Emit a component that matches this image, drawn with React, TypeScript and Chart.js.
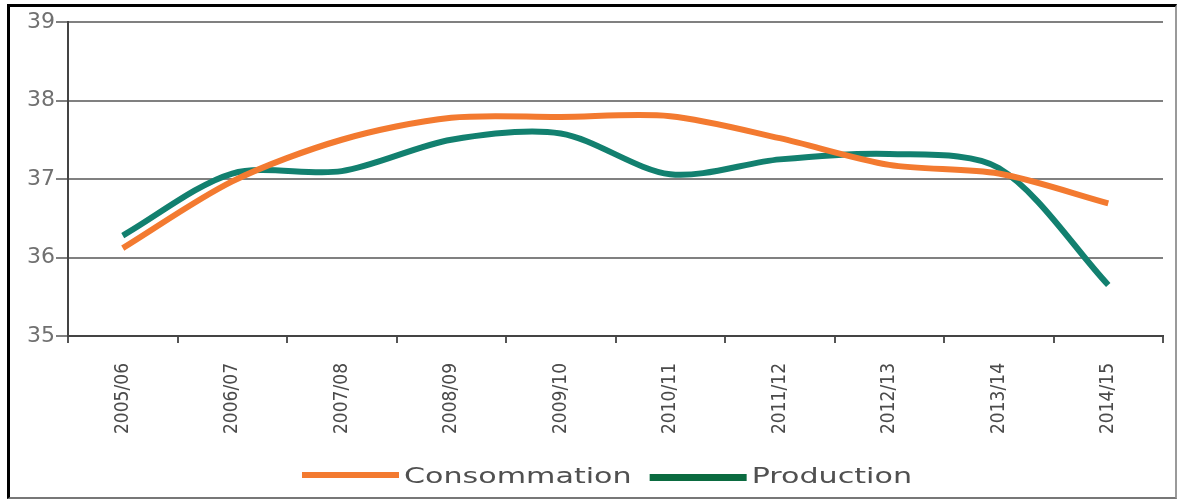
import React, { useEffect, useRef } from "react";
import { Chart, registerables } from "chart.js";

Chart.register(...registerables);

const categories = [
  "2005/06", "2006/07", "2007/08", "2008/09", "2009/10",
  "2010/11", "2011/12", "2012/13", "2013/14", "2014/15",
];
const consommation = [36.12, 36.97, 37.5, 37.78, 37.79, 37.8, 37.52, 37.18, 37.07, 36.69];
const production = [36.28, 37.07, 37.1, 37.5, 37.58, 37.06, 37.25, 37.32, 37.14, 35.65];
const yTicks = [35, 36, 37, 38, 39];

const ORANGE = "#f37a30";
const TEAL = "#12806f";
const LEGEND_GREEN = "#0b6b40";
const legendColors = [ORANGE, LEGEND_GREEN];

// custom legend drawn on the chart canvas (text slightly widened like the source)
const wideLegend = {
  id: "wideLegend",
  afterDraw(chart: any) {
    const ctx = chart.ctx;
    const stretch = 1.37;
    const swatchW = 97;
    const gapText = 5;
    const gapItem = 18;
    ctx.save();
    ctx.font = "22px 'DejaVu Sans', sans-serif";
    const items = chart.data.datasets.map((ds: any, i: number) => ({
      text: ds.label,
      color: legendColors[i],
      w: ctx.measureText(ds.label).width * stretch,
    }));
    const total =
      items.reduce((a: number, it: any) => a + swatchW + gapText + it.w, 0) + gapItem * (items.length - 1);
    const center = 607;
    let x = center - total / 2;
    const baseline = 483;
    items.forEach((it: any, i: number) => {
      ctx.fillStyle = it.color;
      ctx.fillRect(x, baseline - 11 + (i === 1 ? 2 : 0), swatchW, i === 1 ? 7 : 6);
      x += swatchW + gapText;
      ctx.save();
      ctx.translate(x, baseline);
      ctx.scale(stretch, 1);
      ctx.fillStyle = "#505050";
      ctx.textBaseline = "alphabetic";
      ctx.textAlign = "left";
      ctx.fillText(it.text, 0, 0);
      ctx.restore();
      x += it.w + gapItem;
    });
    ctx.restore();
  },
};

export default function App() {
  const ref = useRef<HTMLCanvasElement | null>(null);

  useEffect(() => {
    if (!ref.current) return;
    const chart = new Chart(ref.current, {
      type: "line",
      data: {
        labels: categories,
        datasets: [
          {
            label: "Consommation",
            data: consommation,
            borderColor: ORANGE,
            backgroundColor: ORANGE,
            borderWidth: 6,
            pointRadius: 0,
            tension: 0.3,
            borderCapStyle: "butt",
          },
          {
            label: "Production",
            data: production,
            borderColor: TEAL,
            backgroundColor: LEGEND_GREEN,
            borderWidth: 6,
            pointRadius: 0,
            tension: 0.3,
            borderCapStyle: "butt",
          },
        ],
      },
      plugins: [wideLegend],
      options: {
        animation: false,
        responsive: false,
        maintainAspectRatio: false,
        layout: { padding: { left: 0, right: 15, top: 22, bottom: 50 } },
        plugins: {
          tooltip: { enabled: false },
          legend: { display: false },
        },
        scales: {
          x: {
            type: "category",
            offset: true,
            grid: {
              offset: true,
              drawOnChartArea: false,
              drawTicks: true,
              tickLength: 7,
              color: "#555",
              lineWidth: 2,
            },
            border: { display: true, color: "#444", width: 2 },
            ticks: {
              minRotation: 90,
              maxRotation: 90,
              autoSkip: false,
              padding: 20,
              color: "#4a4a4a",
              font: { family: "'DejaVu Sans Condensed', 'DejaVu Sans', sans-serif", size: 19 },
            },
            afterFit: (s: any) => {
              s.height = 114;
            },
          },
          y: {
            type: "linear",
            min: 35,
            max: 39,
            afterBuildTicks: (s: any) => {
              s.ticks = yTicks.map((v) => ({ value: v }));
            },
            grid: {
              color: "#808080",
              lineWidth: 2,
              drawTicks: true,
              tickLength: 12,
            },
            border: { display: true, color: "#444", width: 2 },
            ticks: {
              padding: 1,
              color: "#707070",
              font: { family: "'DejaVu Sans', sans-serif", size: 22 },
            },
            afterFit: (s: any) => {
              s.width = 68;
            },
          },
        },
      },
    });
    return () => chart.destroy();
  }, []);

  return (
    <div style={{ position: "fixed", left: 0, top: 0, width: 1178, height: 500, background: "#fff" }}>
      <canvas ref={ref} width={1178} height={500} style={{ width: 1178, height: 500, display: "block" }} />
      <div
        style={{
          position: "absolute",
          left: 7,
          top: 4,
          width: 1170,
          height: 495,
          boxSizing: "border-box",
          borderTop: "3px solid #000",
          borderLeft: "3px solid #000",
          borderRight: "2px solid #9a9a9a",
          borderBottom: "2px solid #777",
          pointerEvents: "none",
        }}
      />
    </div>
  );
}
